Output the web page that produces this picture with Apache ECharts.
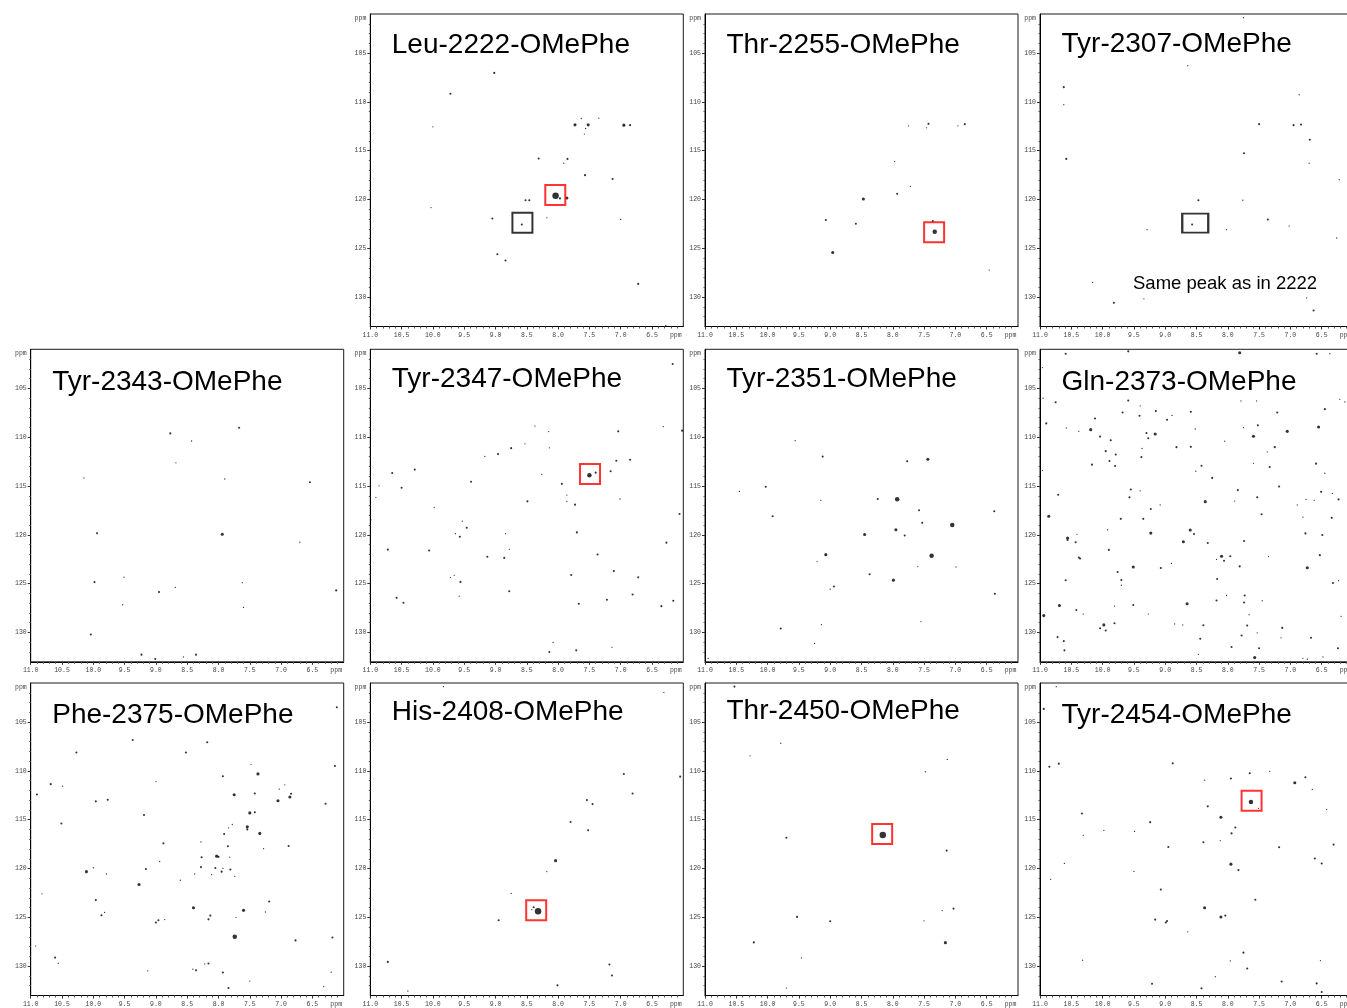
<!DOCTYPE html>
<html><head><meta charset="utf-8">
<script src="https://cdn.jsdelivr.net/npm/echarts@6/dist/echarts.min.js"></script>
<style>html,body{margin:0;padding:0;background:#fff;overflow:hidden}#c{width:1370px;height:1008px}</style>
</head><body><div id="c"></div>
<script>
// ---- tick labels ----
const xTickLabels = [11.0, 10.5, 10.0, 9.5, 9.0, 8.5, 8.0, 7.5, 7.0, 6.5];
const yTickLabels = [105, 110, 115, 120, 125, 130];
const axisUnit = 'ppm';

// ---- panel titles ----
const titles = ['Leu-2222-OMePhe', 'Thr-2255-OMePhe', 'Tyr-2307-OMePhe',
  'Tyr-2343-OMePhe', 'Tyr-2347-OMePhe', 'Tyr-2351-OMePhe', 'Gln-2373-OMePhe',
  'Phe-2375-OMePhe', 'His-2408-OMePhe', 'Thr-2450-OMePhe', 'Tyr-2454-OMePhe'];
const annotation = 'Same peak as in 2222';

// ---- peaks: [1H ppm, 15N ppm, intensity class 1..5] ----
const leu2222 = [[9.02,107.03,2],[9.72,109.17,2],[10.0,112.55,1],[7.63,111.7,1],[7.35,111.67,1],[7.73,112.35,3],[7.52,112.35,3],[7.56,112.72,1],[7.58,113.3,1],[6.95,112.38,3],[6.85,112.38,2],[8.31,115.8,2],[7.85,115.84,2],[7.91,116.28,1],[7.57,117.5,2],[7.13,117.9,2],[8.52,120.07,2],[8.46,120.07,2],[8.04,119.62,5],[7.97,119.88,2],[7.86,119.84,3],[10.03,120.82,1],[9.05,121.94,2],[8.18,121.87,1],[8.58,122.55,2],[7.0,122.04,1],[8.97,125.6,2],[8.84,126.24,2],[6.72,128.64,2],[6.28,132.9,1]];
const thr2255 = [[7.75,112.45,1],[7.43,112.25,2],[7.46,112.66,1],[6.96,112.45,1],[6.85,112.28,2],[7.97,116.11,1],[7.72,118.65,1],[7.93,119.4,2],[8.47,119.94,3],[9.07,122.1,2],[8.59,122.48,2],[7.36,122.2,2],[7.33,123.29,4],[8.96,125.43,3],[6.46,127.22,1]];
const tyr2307 = [[7.75,101.38,1],[8.64,106.29,1],[10.62,108.49,2],[10.62,110.28,1],[6.86,109.27,1],[7.50,112.28,2],[6.95,112.38,2],[6.83,112.32,2],[6.69,113.88,2],[10.58,115.84,2],[7.74,115.26,2],[6.70,116.28,1],[6.22,117.97,1],[8.47,120.07,2],[7.76,120.07,1],[7.36,122.04,2],[8.57,122.55,2],[9.29,123.09,1],[8.02,123.09,1],[7.02,122.72,1],[6.26,123.94,1],[10.16,128.48,1],[9.82,130.58,2],[9.34,130.17,1],[6.74,130.07,1],[6.63,131.36,2]];
const tyr2343 = [[7.67,109.03,2],[8.77,109.61,2],[8.43,110.39,1],[8.68,112.63,1],[10.15,114.18,1],[7.90,114.28,1],[6.54,114.62,2],[9.94,119.84,2],[7.94,119.94,3],[6.70,120.76,1],[9.51,124.33,1],[9.98,124.84,2],[8.95,125.86,2],[8.69,125.38,1],[7.62,124.9,1],[6.12,125.69,2],[9.53,127.16,1],[7.60,127.43,1],[10.04,130.2,2],[9.23,132.27,2],[9.01,132.71,2],[8.56,132.5,1],[8.36,132.27,2]];
const tyr2347 = [[6.17,102.5,2],[8.37,108.86,1],[8.15,109.43,1],[7.04,109.4,2],[6.32,108.92,1],[6.02,109.33,2],[8.53,110.68,1],[8.75,111.12,2],[8.14,111.09,1],[8.96,111.73,2],[9.17,111.97,1],[7.07,112.41,2],[6.85,112.31,2],[10.29,113.32,2],[10.65,113.66,2],[8.26,113.8,1],[7.50,113.9,4],[7.40,113.63,2],[7.16,113.49,2],[10.86,114.98,1],[10.5,115.18,2],[9.39,114.57,2],[7.94,114.78,2],[10.91,116.16,1],[8.49,116.57,2],[7.86,115.93,1],[7.86,116.57,1],[7.73,116.91,2],[7.01,116.33,1],[9.98,117.18,1],[6.06,117.86,2],[10.99,118.46,1],[9.53,118.6,1],[9.46,119.28,2],[9.64,119.88,1],[9.57,120.19,2],[8.84,119.88,1],[7.70,119.75,2],[10.72,121.51,2],[10.06,121.61,2],[8.78,121.48,1],[9.13,122.25,2],[8.86,122.36,2],[7.37,122.02,2],[6.27,120.8,2],[7.79,124.11,2],[7.11,123.71,2],[6.72,124.35,2],[9.72,124.35,1],[9.66,124.15,1],[9.56,124.82,2],[8.78,125.77,2],[10.58,126.45,2],[10.47,126.95,2],[9.58,126.28,1],[7.67,127.06,2],[7.22,126.65,2],[6.81,126.11,2],[6.35,127.3,2],[6.16,126.75,2],[8.08,131.02,1],[8.14,132.0,2],[7.71,131.83,2],[7.14,131.52,1]];
const tyr2351 = [[9.56,110.36,1],[9.12,111.99,2],[7.77,112.46,2],[7.44,112.26,3],[10.45,115.55,1],[10.03,115.07,2],[9.15,116.47,1],[8.24,116.33,2],[7.93,116.36,4],[9.92,118.09,2],[7.58,117.48,2],[7.53,118.77,2],[7.05,118.98,4],[6.38,117.58,2],[8.45,119.96,3],[7.95,119.48,3],[7.81,120.06,2],[9.07,122.03,3],[7.38,122.13,4],[9.21,122.74,1],[8.37,124.03,2],[7.60,123.25,1],[6.99,123.28,1],[7.99,124.64,3],[8.94,125.29,2],[9.0,125.56,1],[6.37,126.03,2],[9.79,129.59,2],[9.14,129.19,1],[7.55,128.88,1],[9.25,131.12,1],[10.95,132.65,1]];
const gln2373 = [[10.59,101.45,2],[9.59,101.21,2],[7.81,101.35,3],[6.58,101.45,2],[6.37,101.45,1],[10.96,102.87,1],[10.95,106.01,1],[10.75,106.42,2],[10.90,108.59,2],[10.58,109.06,1],[10.38,109.4,1],[10.12,108.08,2],[10.19,109.23,3],[10.04,109.94,2],[9.87,110.31,2],[9.95,111.43,2],[9.89,112.44,2],[9.79,111.77,2],[9.80,112.95,2],[10.17,112.81,2],[10.96,113.39,1],[9.59,106.25,2],[9.68,107.47,2],[9.40,106.79,1],[9.41,107.81,2],[9.15,107.33,2],[8.97,108.21,2],[8.89,107.77,1],[9.30,109.57,2],[9.27,110.11,2],[9.16,109.67,3],[9.37,111.16,1],[9.38,112.04,2],[8.82,111.02,2],[8.59,110.99,2],[8.59,107.4,2],[8.52,109.16,1],[8.05,110.41,1],[8.42,112.92,2],[8.51,113.49,1],[8.25,114.17,2],[7.79,106.29,1],[7.54,106.29,1],[7.75,109.03,1],[7.52,108.79,2],[7.59,109.91,3],[7.21,107.47,2],[7.05,109.4,3],[7.25,111.02,2],[7.37,111.5,1],[7.33,113.05,2],[7.59,112.68,1],[6.45,107.13,2],[6.55,108.96,3],[6.21,106.12,1],[6.13,106.39,1],[6.59,112.71,2],[6.45,113.69,1],[7.18,115.05,2],[7.84,115.42,2],[7.53,116.16,2],[7.89,116.54,1],[7.46,117.89,2],[6.89,116.94,1],[6.80,118.19,1],[6.75,116.37,1],[6.62,116.47,1],[6.51,115.59,2],[6.33,115.76,1],[6.23,116.37,2],[6.34,118.26,2],[6.49,120.02,2],[6.76,119.85,2],[6.53,122.08,2],[6.73,123.37,3],[6.32,124.93,2],[6.23,124.69,1],[6.19,128.34,1],[6.24,131.62,2],[10.71,115.89,2],[10.86,118.09,3],[9.55,115.35,2],[9.57,116.16,2],[9.40,115.49,1],[9.23,117.35,2],[9.08,116.94,1],[9.71,118.36,2],[9.35,118.36,2],[8.36,116.6,3],[9.92,119.48,1],[9.23,119.82,3],[8.60,119.51,3],[8.54,119.92,2],[8.71,120.7,3],[8.32,120.83,2],[7.74,120.63,2],[10.56,120.32,3],[10.56,120.53,2],[10.41,119.95,1],[10.43,120.76,2],[10.38,122.32,2],[10.36,122.42,2],[9.90,121.54,2],[9.76,123.81,2],[9.51,123.3,3],[9.07,123.4,2],[8.90,122.93,1],[8.10,122.19,3],[7.96,122.19,2],[8.06,122.66,2],[8.18,122.52,1],[7.81,123.23,2],[7.35,122.22,1],[8.17,124.52,2],[10.59,124.65,2],[9.70,124.62,2],[9.70,125.16,1],[8.02,126.21,1],[7.73,126.21,2],[7.74,126.92,2],[7.45,126.75,1],[8.18,126.72,2],[8.65,127.06,3],[10.69,127.23,3],[10.42,127.7,2],[10.31,128.11,1],[10.94,128.27,3],[9.81,127.29,1],[9.51,127.19,2],[9.27,128.11,1],[9.98,129.22,3],[10.04,129.56,2],[9.95,129.8,2],[9.81,129.05,2],[8.85,129.12,1],[8.72,129.22,1],[8.39,129.26,2],[7.66,128.17,1],[7.69,129.29,2],[7.13,129.53,2],[7.15,130.54,1],[7.53,130.03,1],[7.78,130.3,2],[7.94,131.49,2],[7.50,131.62,2],[7.57,132.57,3],[10.72,130.47,2],[10.62,130.88,2],[10.61,131.83,2],[8.44,130.64,2],[8.47,132.23,1],[6.67,130.54,2],[6.80,132.64,1],[6.73,132.74,1],[6.48,132.5,1]];
const phe2375 = [[6.11,103.48,2],[9.37,106.83,2],[8.18,107.06,2],[10.27,108.11,2],[8.52,108.11,2],[7.48,109.33,1],[6.14,109.5,2],[7.37,110.31,3],[7.93,110.55,2],[10.68,111.36,2],[10.49,111.56,1],[9.0,111.09,1],[10.90,112.41,2],[9.96,113.12,2],[9.77,112.95,2],[7.75,112.44,3],[7.42,112.31,2],[7.03,111.87,1],[6.94,111.43,1],[7.05,113.05,3],[6.86,112.68,3],[6.84,112.34,2],[6.29,113.36,2],[9.19,114.51,2],[10.51,115.39,2],[7.50,114.3,3],[7.42,114.24,2],[7.54,115.72,3],[7.54,115.99,2],[7.78,115.49,1],[7.84,115.83,1],[7.91,116.47,2],[7.34,116.4,3],[8.88,117.42,2],[8.28,117.28,1],[7.85,117.72,2],[7.28,117.96,1],[6.88,117.69,2],[8.27,118.84,2],[8.03,118.73,3],[8.0,118.8,2],[7.82,118.84,1],[8.94,119.28,1],[8.28,119.85,2],[8.05,119.95,2],[7.93,119.99,1],[7.95,120.32,2],[7.81,120.09,2],[8.11,120.63,1],[8.38,120.56,1],[7.74,120.8,1],[8.61,121.2,1],[9.16,120.05,2],[10.0,119.92,1],[10.11,120.32,3],[9.79,120.56,1],[9.27,121.64,3],[10.82,122.59,1],[9.96,123.23,2],[7.19,123.37,2],[8.40,124.01,3],[7.60,124.28,3],[7.25,124.45,1],[8.13,124.82,2],[8.16,125.2,2],[7.72,124.99,1],[9.82,124.49,1],[9.87,124.79,2],[8.96,125.3,2],[9.0,125.53,2],[8.86,125.23,1],[7.74,126.99,4],[6.77,127.36,2],[6.18,127.06,2],[10.92,127.94,1],[10.61,129.12,2],[10.56,129.7,1],[9.13,130.47,1],[8.41,130.3,1],[8.36,130.41,2],[8.22,129.77,1],[8.16,129.73,2],[7.93,130.64,2],[7.50,131.52,1],[7.84,132.23,2],[6.20,130.61,1],[6.32,132.1,1]];
const his2408 = [[9.83,101.38,1],[6.31,101.95,1],[6.95,110.32,2],[6.05,110.59,2],[6.81,112.32,2],[7.54,112.99,2],[7.45,113.4,2],[7.80,115.23,2],[7.52,116.08,2],[8.04,119.19,3],[8.18,120.31,1],[8.75,122.55,1],[8.39,123.97,2],[8.42,124.21,1],[8.32,124.38,5],[8.95,125.29,2],[10.72,129.56,2],[10.40,132.54,1],[7.18,129.83,2],[7.14,130.95,2],[8.01,131.96,2]];
const thr2450 = [[10.53,101.37,2],[9.79,107.17,1],[10.28,108.46,1],[7.13,108.83,1],[7.48,110.09,1],[9.70,116.84,2],[8.16,116.57,5],[7.14,118.16,2],[9.53,124.95,2],[9.0,125.39,2],[7.21,124.3,1],[7.03,124.1,2],[7.50,125.35,1],[10.22,127.56,2],[7.16,127.59,3],[9.46,129.15,1],[9.70,132.24,1]];
const tyr2454 = [[10.74,101.38,1],[10.94,103.65,2],[10.85,109.57,2],[10.70,109.26,2],[8.88,109.23,2],[8.37,110.95,1],[7.95,110.78,2],[7.65,110.24,2],[7.33,110.04,1],[6.76,110.65,2],[6.93,111.22,3],[6.65,111.9,1],[7.63,113.19,4],[7.51,113.83,1],[6.42,113.96,1],[8.32,113.63,2],[10.33,114.37,2],[9.24,115.25,2],[8.11,114.74,3],[7.88,115.79,2],[7.94,116.4,2],[10.31,116.6,1],[9.98,116.1,1],[9.49,116.2,1],[8.39,117.31,2],[8.12,117.14,1],[8.95,117.79,2],[7.18,117.82,2],[6.31,117.55,2],[6.61,118.97,2],[6.50,119.48,2],[10.61,119.48,1],[7.95,119.55,3],[7.83,120.16,2],[9.50,120.29,1],[10.83,121.1,1],[9.07,122.15,2],[7.56,123.2,2],[8.37,124.01,3],[8.11,124.96,3],[8.04,124.82,2],[9.16,125.23,2],[8.97,125.37,2],[8.99,125.53,2],[8.64,126.48,1],[10.32,129.39,1],[7.75,128.61,2],[7.96,129.46,1],[7.69,130.24,2],[6.52,129.42,1],[8.20,131.08,1],[7.14,131.56,2],[9.21,131.79,2],[8.42,132.27,2],[6.58,131.76,2],[6.50,132.64,2]];

// ---- highlighted peaks (box centres) ----
const leu2222Red = [[8.045,119.53]];
const leu2222Black = [[8.57,122.38]];
const thr2255Red = [[7.34,123.36]];
const tyr2307Black = [[8.52,122.41]];
const tyr2347Red = [[7.49,113.76]];
const his2408Red = [[8.35,124.26]];
const thr2450Red = [[8.17,116.47]];
const tyr2454Red = [[7.62,113.07]];

const peakSets = [leu2222, thr2255, tyr2307, tyr2343, tyr2347, tyr2351, gln2373, phe2375, his2408, thr2450, tyr2454];
const redSets = [leu2222Red, thr2255Red, [], [], tyr2347Red, [], [], [], his2408Red, thr2450Red, tyr2454Red];
const blackSets = [leu2222Black, [], tyr2307Black, [], [], [], [], [], [], [], []];

// ---- layout (positions / styles) ----
const colLeft = [30.7, 370.3, 705, 1040];
const rowTop = [14, 349.3, 683];
const W = 313, H = 312.5;
const cells = [[0,1,33.8],[0,2,33.8],[0,3,33.2],[1,0,371],[1,1,368.5],[1,2,368],[1,3,371],[2,0,704],[2,1,701.5],[2,2,700.5],[2,3,704]];
const blackBoxSize = [[20,20],null,[26,19]];
const SIZES = [0, 1.3, 2.1, 3.1, 4.5, 6.5];
const monoFont = "'Liberation Mono','DejaVu Sans Mono',monospace";
const sansFont = "'Liberation Sans',Arial,Helvetica,sans-serif";
const X_UNIT_POS = 6.12, Y_UNIT_POS = 101.45;

const xMinor = [], yMinor = [];
for (let i = 61; i <= 109; i++) if (i % 5) xMinor.push(i / 10);
for (let i = 102; i <= 132; i++) if (i % 5) yMinor.push(i);

const option = {animation: false, title: [], grid: [], xAxis: [], yAxis: [], series: []};

cells.forEach((c, i) => {
  const L = colLeft[c[1]], T = rowTop[c[0]];
  option.grid.push({left: L, top: T, width: W, height: H, show: true, borderColor: '#1a1a1a', borderWidth: 1,
    backgroundColor: 'rgba(0,0,0,0)', containLabel: false, outerBoundsMode: 'none'});
  option.title.push({text: titles[i], left: L + 21.5, top: c[2] - 3, padding: 0,
    textStyle: {fontFamily: sansFont, fontSize: 28, fontWeight: 'normal', color: '#000'}});
  option.xAxis.push({gridIndex: i, type: 'value', position: 'bottom', inverse: true, min: 6, max: 11,
    axisLine: {onZero: false, lineStyle: {color: '#000', width: 1}}, splitLine: {show: false},
    axisTick: {customValues: xTickLabels, length: 3, lineStyle: {color: '#333'}},
    axisLabel: {customValues: xTickLabels.concat([X_UNIT_POS]), margin: 5, fontSize: 6.5, fontFamily: monoFont, color: '#444',
      formatter: v => (v < 6.3 ? axisUnit : v.toFixed(1))}});
  option.yAxis.push({gridIndex: i, type: 'value', position: 'left', inverse: true, min: 101, max: 133,
    axisLine: {onZero: false, lineStyle: {color: '#000', width: 1}}, splitLine: {show: false},
    axisTick: {customValues: yTickLabels, length: 3, lineStyle: {color: '#333'}},
    axisLabel: {customValues: yTickLabels.concat([Y_UNIT_POS]), margin: 4, fontSize: 6.5, fontFamily: monoFont, color: '#444',
      formatter: v => (v < 102 ? axisUnit : String(Math.round(v)))}});
  option.series.push({type: 'scatter', xAxisIndex: i, yAxisIndex: i, data: peakSets[i], symbol: 'circle',
    symbolSize: d => SIZES[d[2]], itemStyle: {color: '#000'}, silent: true, z: 2});
  if (redSets[i].length) option.series.push({type: 'scatter', xAxisIndex: i, yAxisIndex: i, data: redSets[i], symbol: 'rect',
    symbolSize: [20, 20], itemStyle: {color: 'rgba(0,0,0,0)', borderColor: '#ff0000', borderWidth: 2}, silent: true, z: 3});
  if (blackSets[i].length) option.series.push({type: 'scatter', xAxisIndex: i, yAxisIndex: i, data: blackSets[i], symbol: 'rect',
    symbolSize: blackBoxSize[i], itemStyle: {color: 'rgba(0,0,0,0)', borderColor: '#000', borderWidth: 2}, silent: true, z: 3});
});
// minor tick axes
cells.forEach((c, i) => {
  option.xAxis.push({gridIndex: i, type: 'value', position: 'bottom', inverse: true, min: 6, max: 11,
    axisLine: {show: false, onZero: false}, splitLine: {show: false}, axisLabel: {show: false},
    axisTick: {customValues: xMinor, length: 2, lineStyle: {color: '#555'}}});
  option.yAxis.push({gridIndex: i, type: 'value', position: 'left', inverse: true, min: 101, max: 133,
    axisLine: {show: false, onZero: false}, splitLine: {show: false}, axisLabel: {show: false},
    axisTick: {customValues: yMinor, length: 1.5, lineStyle: {color: '#555'}}});
});
option.title.push({text: annotation, left: 1133, top: 274.5, padding: 0,
  textStyle: {fontFamily: sansFont, fontSize: 18.5, fontWeight: 'normal', color: '#000'}});

const chart = echarts.init(document.getElementById('c'), null, {renderer: 'canvas'});
chart.setOption(option);
</script></body></html>
